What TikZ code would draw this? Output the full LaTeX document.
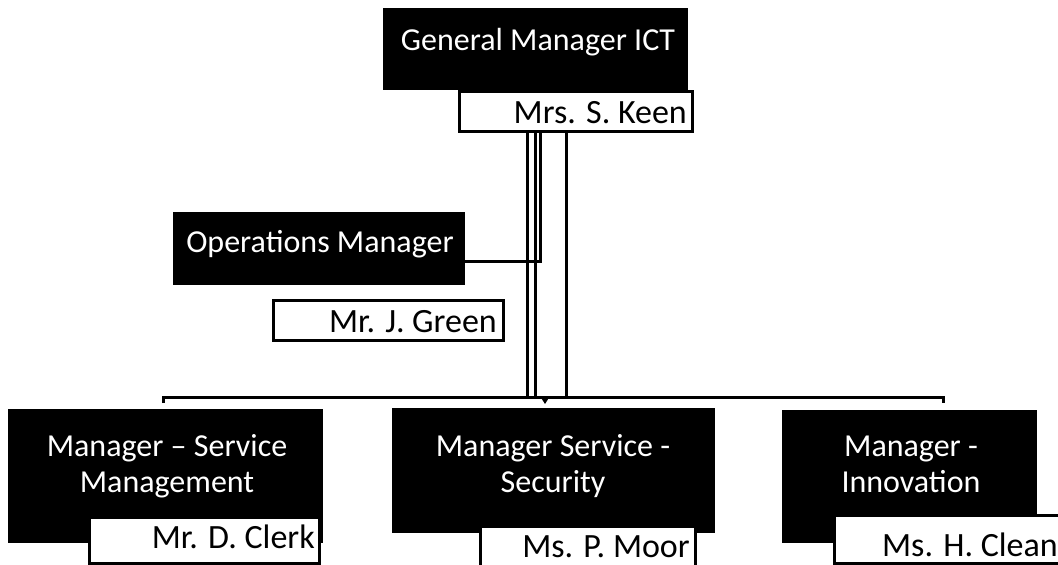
\documentclass[tikz,border=0pt]{standalone}
\usepackage{fontspec}
\setmainfont{Carlito}
\usetikzlibrary{arrows.meta}
\begin{document}
\begin{tikzpicture}[x=1pt,y=-1pt,
  blackbox/.style={fill=black,draw=none,inner sep=0pt,anchor=north west},
  namebox/.style={fill=white,draw=black,line width=3pt,inner sep=0pt,anchor=north west},
  ttl/.style={text=white,font=\fontsize{32}{36}\selectfont,inner sep=0pt,anchor=base},
  nm/.style={text=black,font=\fontsize{34}{38}\selectfont,inner sep=0pt,anchor=base east},
  conn/.style={draw=black,line width=3pt}]
\path[use as bounding box,clip] (0,0) rectangle (1058,565);
\fill[white] (0,0) rectangle (1058,565);
% General manager
\node[blackbox,minimum width=305pt,minimum height=82pt] (gm) at (383,8) {};
\node[ttl] (gmt) at (538,50) {General Manager ICT};
\node[namebox,minimum width=233pt,minimum height=40pt] (keen) at (457.5,89.5) {};
\node[nm] (keent) at (687,123) {Mrs. S. Keen};
% Operations manager
\node[blackbox,minimum width=292pt,minimum height=73pt] (ops) at (173,212) {};
\node[ttl] (opst) at (320,252) {Operations Manager};
\node[namebox,minimum width=230pt,minimum height=40pt] (green) at (271.5,298.5) {};
\node[nm] (greent) at (497,332) {Mr. J. Green};
% Bottom row
\node[blackbox,minimum width=315pt,minimum height=134pt] (ms) at (8,409) {};
\node[ttl] (mst1) at (167,456) {Manager -- Service};
\node[ttl] (mst2) at (167,492) {Management};
\node[namebox,minimum width=230pt,minimum height=46pt] (clerk) at (87.5,515.5) {};
\node[nm] (clerkt) at (315,548) {Mr. D. Clerk};
\node[blackbox,minimum width=323pt,minimum height=125pt] (mss) at (392,408) {};
\node[ttl] (msst1) at (553,456) {Manager Service -};
\node[ttl] (msst2) at (553,492) {Security};
\node[namebox,minimum width=215pt,minimum height=46pt] (moor) at (478.5,524.5) {};
\node[nm] (moort) at (690,557) {Ms. P. Moor};
\node[blackbox,minimum width=255pt,minimum height=133pt] (inn) at (782,410) {};
\node[ttl] (innt1) at (911,456) {Manager -};
\node[ttl] (innt2) at (911,492) {Innovation};
\node[namebox,minimum width=229pt,minimum height=48pt] (clean) at (832.5,513.5) {};
\node[nm] (cleant) at (1058,556) {Ms. H. Clean};
% connectors
\coordinate (opsj) at (540,261);
\draw[conn] (opsj -| ops.east) -- (opsj) -- (opsj |- keen.south);
\coordinate (b1) at (527,397);
\coordinate (b2) at (535,397);
\coordinate (b3) at (566,397);
\draw[conn] (b1 |- keen.south) -- (b1);
\draw[conn] (b2 |- keen.south) -- (b2);
\draw[conn] (b3 |- keen.south) -- (b3);
\coordinate (busL) at (163,397);
\coordinate (busR) at (943,397);
\draw[conn] (busL) ++(0,6) -- (busL) -- (busR) -- ++(0,6);
\coordinate (bm) at (545,397);
\draw[line width=1pt,-{Triangle[length=5pt,width=6pt]}] (bm) -- ++(0,7);
\end{tikzpicture}
\end{document}
